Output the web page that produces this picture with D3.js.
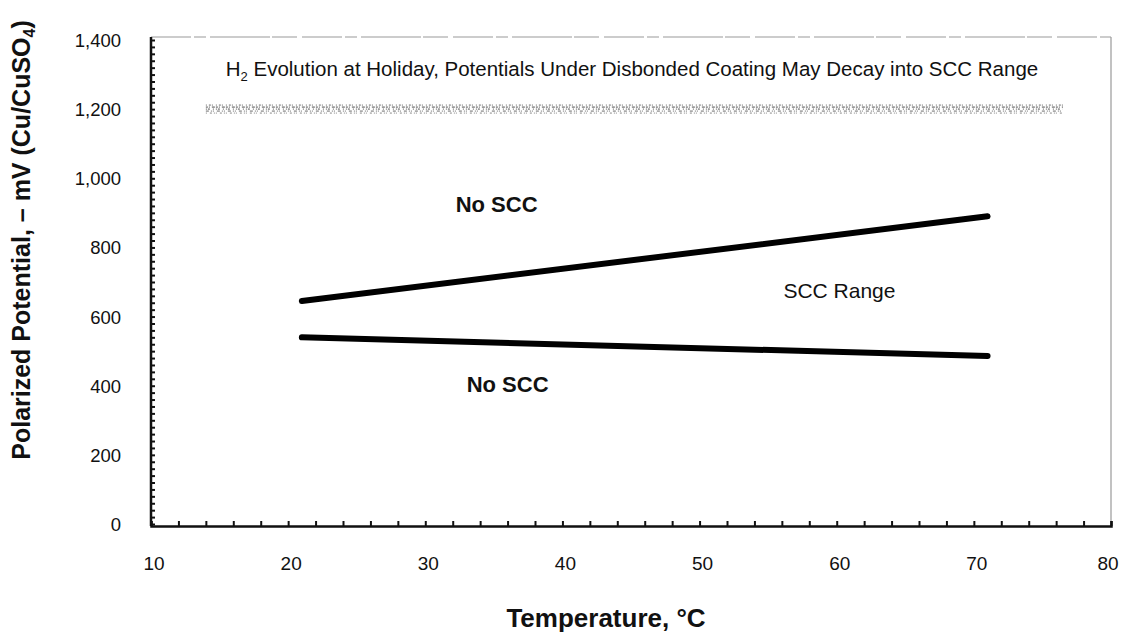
<!DOCTYPE html>
<html><head><meta charset="utf-8">
<script src="https://cdn.jsdelivr.net/npm/d3@7"></script>
<style>body{margin:0;background:#fff}svg{display:block}text{font-family:"Liberation Sans",Arial,sans-serif;fill:#111}</style>
</head><body><svg id="c" width="1124" height="632"></svg>
<script>
// Data
const xTicks = [10,20,30,40,50,60,70,80];
const yTicks = [0,200,400,600,800,1000,1200,1400];
const upperTemps = [21,71];
const upperPotentials = [645,890];
const lowerTemps = [21,71];
const lowerPotentials = [540,486];
const h2Temps = [14,76.5];
const h2Potentials = [1200,1200];
const regionLabels = [
  {text:"No SCC", t:35.2, v:902, bold:true},
  {text:"SCC Range", t:60.2, v:654, bold:false},
  {text:"No SCC", t:36.0, v:382, bold:true}
];
const title = "Evolution at Holiday, Potentials Under Disbonded Coating May Decay into SCC Range";

const svg = d3.select("#c");
const x = d3.scaleLinear().domain([10,80]).range([151,1111]);
const y = d3.scaleLinear().domain([0,1400]).range([524,40]);
const frameTop = 37, frameBottom = 526;

// frame: light top & right
svg.append("line").attr("x1",151).attr("x2",1111).attr("y1",frameTop).attr("y2",frameTop)
  .attr("stroke","#999").attr("stroke-width",1.2).attr("stroke-dasharray","40,3,12,4,60,2,25,5");
svg.append("line").attr("x1",1111).attr("x2",1111).attr("y1",frameTop).attr("y2",frameBottom)
  .attr("stroke","#999").attr("stroke-width",1.2);

// minor ticks
const gx = svg.append("g").attr("transform",`translate(0,${frameBottom})`);
gx.call(d3.axisTop(x).tickValues(d3.range(10,80.01,2)).tickSize(5).tickFormat(""));
gx.select(".domain").attr("stroke","#111").attr("stroke-width",2.5);
gx.selectAll(".tick line").attr("stroke","#111").attr("stroke-width",2);
const gy = svg.append("g").attr("transform",`translate(151,0)`);
gy.call(d3.axisRight(y).tickValues(d3.range(0,1400.1,20)).tickSize(4).tickFormat(""));
gy.select(".domain").attr("d",`M0,${frameBottom}V${frameTop}`).attr("stroke","#111").attr("stroke-width",2.5);
gy.selectAll(".tick line").attr("stroke","#111").attr("stroke-width",2);

// tick labels
const fmt = d3.format(",");
svg.selectAll(".xl").data(xTicks).join("text")
  .attr("x",d=>Math.min(x(d)+3,1108)).attr("y",570).attr("text-anchor","middle").attr("font-size",19).text(d=>d);
svg.selectAll(".yl").data(yTicks).join("text")
  .attr("x",121).attr("y",d=>y(d)+7).attr("text-anchor","end").attr("font-size",18.5).text(d=>fmt(d));

// H2 evolution band (speckled)
const lineGen = d3.line().x(d=>x(d[0])).y(d=>y(d[1]));
const h2 = h2Temps.map((t,i)=>[t,h2Potentials[i]]);
[[-4,"1,2,2,1,1,3","#aaa"],[-2,"2,1,1,2,3,1","#999"],[0,"1,1,2,3,1,2","#999"],[2,"3,2,1,1,1,3","#aaa"],[4,"1,3,2,2,1,1","#bbb"]].forEach(([dy,da,c])=>{
  svg.append("path").datum(h2).attr("d",lineGen).attr("transform",`translate(0,${dy})`)
    .attr("fill","none").attr("stroke",c).attr("stroke-width",1.8).attr("stroke-dasharray",da);
});

// boundary lines
const upper = upperTemps.map((t,i)=>[t,upperPotentials[i]]);
const lower = lowerTemps.map((t,i)=>[t,lowerPotentials[i]]);
[upper,lower].forEach(d=>{
  svg.append("path").datum(d).attr("d",lineGen).attr("fill","none")
    .attr("stroke","#000").attr("stroke-width",6).attr("stroke-linecap","round");
});

// title
const tt = svg.append("text").attr("x",632).attr("y",76).attr("text-anchor","middle").attr("font-size",20.5);
tt.append("tspan").text("H");
tt.append("tspan").attr("font-size",13).attr("dy",5).text("2");
tt.append("tspan").attr("dy",-5).text(" "+title);

// region labels
svg.selectAll(".rl").data(regionLabels).join("text")
  .attr("x",d=>x(d.t)).attr("y",d=>y(d.v)).attr("text-anchor","middle")
  .attr("font-size",d=>d.bold?22:21).attr("font-weight",d=>d.bold?"bold":"normal").text(d=>d.text);

// axis titles
svg.append("text").attr("x",606).attr("y",627).attr("text-anchor","middle")
  .attr("font-size",26).attr("font-weight","bold").text("Temperature, °C");
const yt = svg.append("text").attr("transform","translate(30,240) rotate(-90)").attr("text-anchor","middle")
  .attr("font-size",25).attr("font-weight","bold");
yt.append("tspan").text("Polarized Potential, – mV (Cu/CuSO");
yt.append("tspan").attr("font-size",16).attr("dy",5).text("4");
yt.append("tspan").attr("dy",-5).text(")");
</script></body></html>
